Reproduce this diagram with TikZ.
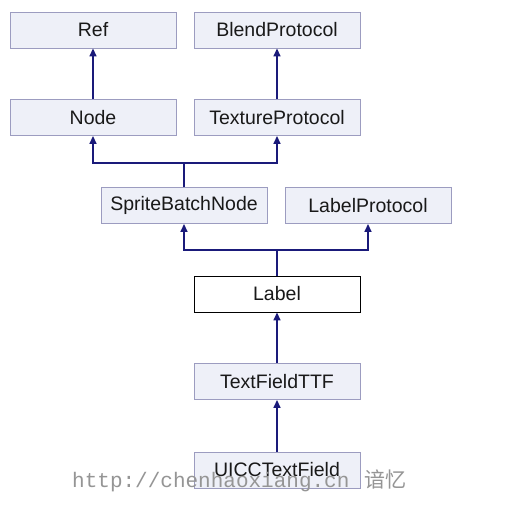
\documentclass[tikz,border=0pt]{standalone}
\usepackage{fontspec}
\setmainfont{Liberation Sans}
\newfontfamily\wmmono{Liberation Mono}
\newfontfamily\wmcjk{Noto Sans CJK SC}
\usetikzlibrary{arrows.meta}
\definecolor{boxfill}{HTML}{EEF0F8}
\definecolor{boxdraw}{HTML}{9C9CC0}
\definecolor{arrowc}{HTML}{1A1A7A}
\definecolor{wmgray}{HTML}{959595}
\tikzset{
  cls/.style={draw=boxdraw, fill=boxfill, line width=0.9pt, minimum width=166pt, minimum height=36pt, inner sep=0pt, font=\fontsize{19.5}{22}\selectfont, text=black!90},
  clsmain/.style={cls, draw=black, fill=white},
  inh/.style={draw=arrowc, line width=1.5pt, -{Triangle[length=8pt,width=7pt]}},
  ln/.style={draw=arrowc, line width=1.5pt},
}
\begin{document}
\begin{tikzpicture}[x=1pt,y=-1pt]
\useasboundingbox (0,0) rectangle (513,509);
\fill[white] (0,0) rectangle (513,509);
\node[cls] (ref) at (93,30) {Ref};
\node[cls] (blend) at (277,30) {BlendProtocol};
\node[cls] (node) at (93,117.5) {Node};
\node[cls] (tex) at (277,117.5) {TextureProtocol};
\node[cls] (sbn) at (184,205.5) {SpriteBatchNode};
\node[cls] (lp) at (368,205.5) {LabelProtocol};
\node[clsmain] (label) at (277,294) {Label};
\node[cls] (tf) at (277,381.5) {TextFieldTTF};
\node[cls] (ui) at (277,470) {UICCTextField};
\coordinate (f1) at (184,163);
\coordinate (f2) at (277,250);
\draw[inh] (node.north) -- (ref.south);
\draw[inh] (tex.north) -- (blend.south);
\draw[ln] (sbn.north) -- (f1);
\draw[inh] (f1) -| (node.south);
\draw[inh] (f1) -| (tex.south);
\draw[ln] (label.north) -- (f2);
\draw[inh] (f2) -| (sbn.south);
\draw[inh] (f2) -| (lp.south);
\draw[inh] (tf.north) -- (label.south);
\draw[inh] (ui.north) -- (tf.south);
\node[anchor=base west, inner sep=0pt, text=wmgray, font=\wmmono\fontsize{21}{21}\selectfont] (wm) at (72,487) {http://chenhaoxiang.cn};
\node[anchor=base west, inner sep=0pt, text=wmgray, font=\wmcjk\fontsize{21}{21}\selectfont] (wm2) at (364,487) {谙忆};
\end{tikzpicture}
\end{document}
